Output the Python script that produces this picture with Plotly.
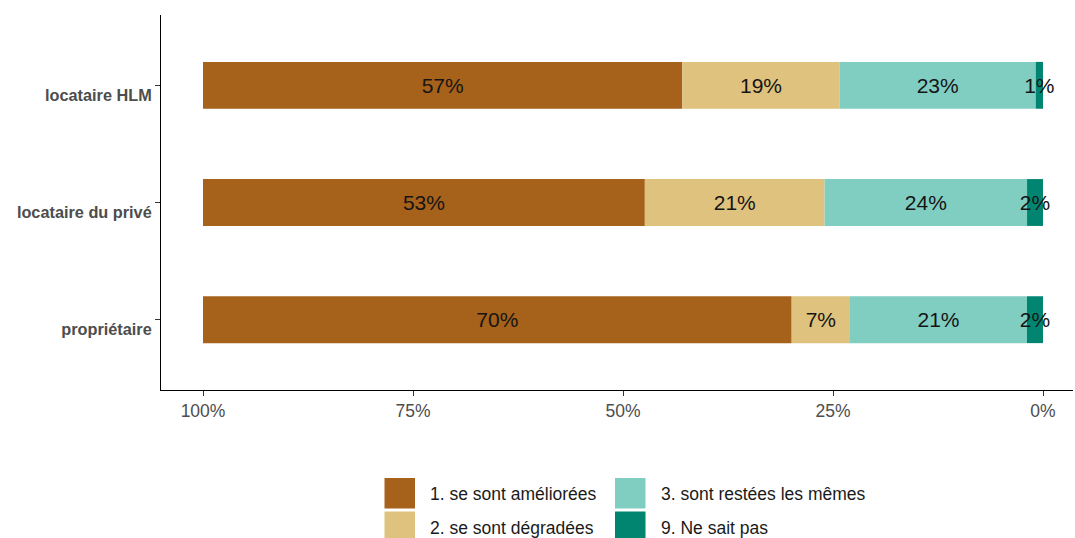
import plotly.graph_objects as go

categories = ["locataire HLM", "locataire du privé", "propriétaire"]
series_names = ["1. se sont améliorées", "2. se sont dégradées",
                "3. sont restées les mêmes", "9. Ne sait pas"]
ameliorees = [57.06, 52.6, 70.08]
degradees = [18.74, 21.4, 6.94]
memes = [23.33, 24.1, 21.07]
ne_sait_pas = [0.87, 1.9, 1.91]
x_tick_values = [100, 75, 50, 25, 0]
x_tick_labels = ["100%", "75%", "50%", "25%", "0%"]

colors = ["#A6611A", "#DFC27D", "#80CDC1", "#018571"]
series_values = [ameliorees, degradees, memes, ne_sait_pas]

FONT = "Liberation Sans, Arial, sans-serif"
W, H = 1075, 538
ML, MR, MT, MB = 161, 2, 15, 148
PW, PH = W - ML - MR, H - MT - MB

fig = go.Figure()
# each segment starts where the segments nearer 0% end (axis is reversed)
n = len(series_values)
for i in range(n):
    vals = series_values[i]
    base = [sum(series_values[j][k] for j in range(i + 1, n)) for k in range(len(categories))]
    fig.add_trace(go.Bar(
        y=categories, x=vals, base=base, orientation="h", name=series_names[i],
        marker=dict(color=colors[i], line=dict(width=0)),
        width=0.4,
        text=[f"{round(v)}%" for v in vals],
        textposition="inside", insidetextanchor="middle", textangle=0,
        constraintext="none", cliponaxis=False,
        textfont=dict(family=FONT, size=21, color="#151515"),
        showlegend=False, hoverinfo="skip",
    ))

fig.update_layout(
    width=W, height=H, barmode="overlay",
    margin=dict(l=ML, r=MR, t=MT, b=MB, pad=0),
    plot_bgcolor="white", paper_bgcolor="white",
    font=dict(family=FONT, color="#4d4d4d"),
)

fig.update_xaxes(
    range=[100 + (203 - ML) / 8.4, -((ML + PW) - 1043) / 8.4],
    tickvals=x_tick_values, ticktext=x_tick_labels,
    showline=True, linecolor="black", linewidth=1,
    ticks="outside", ticklen=5, tickcolor="#333333", tickwidth=1,
    showgrid=False, zeroline=False,
    tickfont=dict(size=17.5, color="#4d4d4d", family=FONT),
)
fig.update_yaxes(
    categoryorder="array", categoryarray=categories,
    range=[2.6, -0.6],
    showline=True, linecolor="black", linewidth=1,
    ticks="outside", ticklen=5, tickcolor="#333333", tickwidth=1,
    showgrid=False, zeroline=False,
    ticklabelshift=-10,
    tickfont=dict(size=16.3, color="#4d4d4d", family=FONT, weight="bold"),
)

# manual legend (2x2, column-major)
def px_to_paper(px, py):
    return (px - ML) / PW, (H - MB - py) / PH

legend_pos = [(384.5, 478.0), (384.5, 511.5), (615.0, 478.0), (615.0, 511.5)]
key = 30.5
for (kx, ky), name, col in zip(legend_pos, series_names, colors):
    x0, y1 = px_to_paper(kx, ky)
    x1, y0 = px_to_paper(kx + key, ky + key)
    fig.add_shape(type="rect", xref="paper", yref="paper",
                  x0=x0, x1=x1, y0=y0, y1=y1,
                  fillcolor=col, line=dict(width=0))
    tx, ty = px_to_paper(kx + key + 13, ky + key / 2 + 1)
    fig.add_annotation(xref="paper", yref="paper", x=tx, y=ty,
                       text=name, showarrow=False, xanchor="left", yanchor="middle",
                       font=dict(size=17.5, color="#1a1a1a", family=FONT))

fig.write_html("out.html", config={"displayModeBar": False},
               post_script="document.body.style.margin='0';document.body.style.overflow='hidden';")
